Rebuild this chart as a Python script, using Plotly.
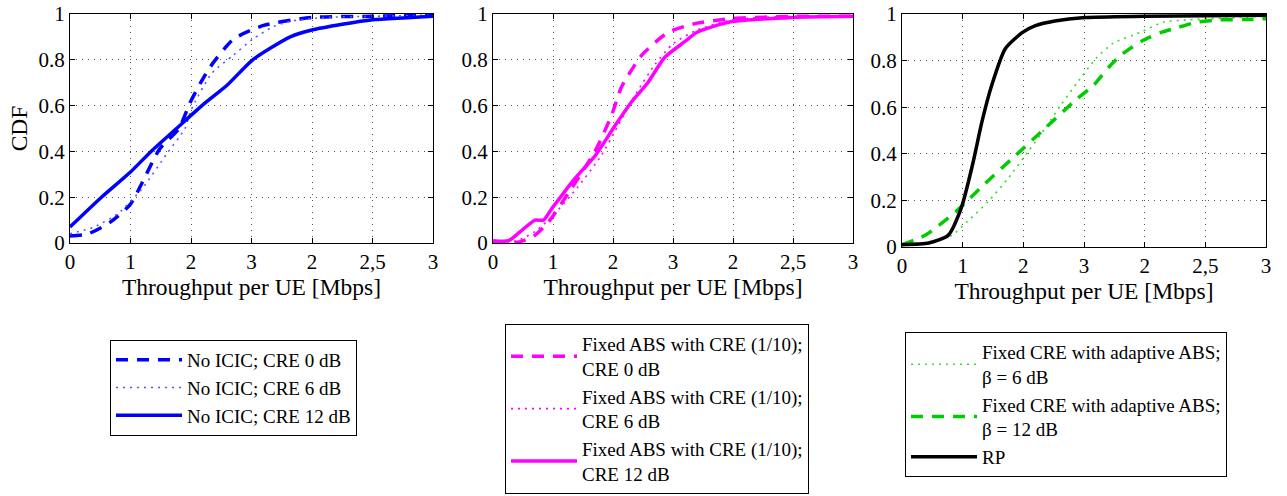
import plotly.graph_objects as go

# ---------------- data ----------------
tick_vals = [0, 0.5, 1, 1.5, 2, 2.5, 3]
tick_text = ["0", "1", "2", "3", "2", "2,5", "3"]
y_tick_vals = [0, 0.2, 0.4, 0.6, 0.8, 1]
y_tick_text = ["0", "0.2", "0.4", "0.6", "0.8", "1"]

# Panel 1: No ICIC
p1_cre0_x = [0, 0.15, 0.33, 0.5, 0.74, 0.9, 0.99, 1.08, 1.16, 1.35, 1.6, 2.0, 2.5, 3]
p1_cre0_y = [0.03, 0.04, 0.09, 0.17, 0.41, 0.50, 0.61, 0.70, 0.77, 0.89, 0.95, 0.985, 0.99, 0.995]
p1_cre6_x = [0, 0.2, 0.4, 0.6, 0.8, 0.95, 1.0, 1.17, 1.35, 1.51, 1.68, 1.84, 2.1, 2.5, 3]
p1_cre6_y = [0.04, 0.07, 0.13, 0.24, 0.39, 0.5, 0.58, 0.74, 0.82, 0.89, 0.945, 0.97, 0.985, 0.99, 0.995]
p1_cre12_x = [0, 0.26, 0.5, 0.67, 0.88, 1.09, 1.3, 1.51, 1.82, 2.0, 2.25, 2.5, 2.75, 3.0]
p1_cre12_y = [0.07, 0.2, 0.31, 0.4, 0.5, 0.6, 0.69, 0.8, 0.9, 0.93, 0.955, 0.975, 0.983, 0.99]

# Panel 2: Fixed ABS with CRE (1/10)
p2_cre0_x = [0, 0.22, 0.34, 0.46, 0.63, 0.85, 0.99, 1.07, 1.24, 1.46, 1.7, 2.0, 2.5, 3]
p2_cre0_y = [0.0, 0.005, 0.03, 0.09, 0.22, 0.40, 0.56, 0.68, 0.82, 0.92, 0.96, 0.98, 0.99, 0.99]
p2_cre6_x = [0, 0.2, 0.35, 0.5, 0.7, 0.9, 1.05, 1.2, 1.35, 1.5, 1.7, 2.0, 2.5, 3]
p2_cre6_y = [0.0, 0.01, 0.05, 0.12, 0.24, 0.38, 0.52, 0.66, 0.78, 0.87, 0.93, 0.975, 0.99, 0.99]
p2_cre12_x = [0, 0.13, 0.25, 0.35, 0.42, 0.49, 0.68, 0.85, 1.02, 1.16, 1.29, 1.43, 1.6, 1.7, 1.98, 2.5, 3]
p2_cre12_y = [0.01, 0.01, 0.06, 0.10, 0.10, 0.15, 0.28, 0.38, 0.515, 0.62, 0.70, 0.81, 0.88, 0.92, 0.966, 0.985, 0.99]

# Panel 3: Fixed CRE with adaptive ABS, and RP
p3_b6_x = [0, 0.22, 0.41, 0.54, 0.71, 0.875, 1.04, 1.18, 1.31, 1.45, 1.6, 1.74, 1.96, 2.15, 2.37, 2.55, 3]
p3_b6_y = [0.01, 0.02, 0.05, 0.11, 0.195, 0.295, 0.41, 0.51, 0.61, 0.71, 0.81, 0.875, 0.92, 0.965, 0.975, 0.98, 0.99]
p3_b12_x = [0, 0.19, 0.44, 0.68, 0.93, 1.18, 1.43, 1.58, 1.71, 1.82, 1.98, 2.13, 2.26, 2.43, 2.62, 2.81, 3.0]
p3_b12_y = [0.01, 0.05, 0.15, 0.27, 0.39, 0.51, 0.63, 0.695, 0.775, 0.83, 0.885, 0.92, 0.94, 0.965, 0.975, 0.976, 0.98]
p3_rp_x = [0, 0.22, 0.38, 0.49, 0.58, 0.66, 0.74, 0.85, 0.99, 1.1, 1.26, 1.51, 2, 3]
p3_rp_y = [0.01, 0.017, 0.05, 0.17, 0.35, 0.54, 0.695, 0.85, 0.92, 0.95, 0.97, 0.985, 0.99, 0.995]

# ---------------- figure ----------------
FONT = "Liberation Serif"
W, H = 1287, 496

BLUE = "#0000FF"
MAG = "#FF00FF"
GREEN = "#00CC00"
DASH = "12px,9px"
DOT = "2px,5px"

fig = go.Figure()

def add(x, y, name, color, width, dash, xa, ya, legend):
    fig.add_trace(go.Scatter(
        x=x, y=y, mode="lines", name=name,
        line=dict(color=color, width=width, dash=dash, shape="spline", smoothing=0.6),
        xaxis=xa, yaxis=ya, legend=legend))

add(p1_cre0_x, p1_cre0_y, "No ICIC; CRE 0 dB", BLUE, 3.5, DASH, "x", "y", "legend")
add(p1_cre6_x, p1_cre6_y, "No ICIC; CRE 6 dB", "#5555FF", 1.6, DOT, "x", "y", "legend")
add(p1_cre12_x, p1_cre12_y, "No ICIC; CRE 12 dB", BLUE, 3.5, "solid", "x", "y", "legend")

add(p2_cre0_x, p2_cre0_y, "Fixed ABS with CRE (1/10);<br>CRE 0 dB", MAG, 3.5, DASH, "x2", "y2", "legend2")
add(p2_cre6_x, p2_cre6_y, "Fixed ABS with CRE (1/10);<br>CRE 6 dB", MAG, 1.6, DOT, "x2", "y2", "legend2")
add(p2_cre12_x, p2_cre12_y, "Fixed ABS with CRE (1/10);<br>CRE 12 dB", MAG, 3.5, "solid", "x2", "y2", "legend2")

add(p3_b6_x, p3_b6_y, "Fixed CRE with adaptive ABS;<br>β = 6 dB", "#33DD33", 1.6, DOT, "x3", "y3", "legend3")
add(p3_b12_x, p3_b12_y, "Fixed CRE with adaptive ABS;<br>β = 12 dB", GREEN, 3.5, DASH, "x3", "y3", "legend3")
add(p3_rp_x, p3_rp_y, "RP", "black", 3.5, "solid", "x3", "y3", "legend3")

x_domains = [[70 / W, 433 / W], [493 / W, 853 / W], [902 / W, 1266 / W]]
y_domains = [[1 - 243 / H, 1 - 14 / H], [1 - 243 / H, 1 - 14 / H], [1 - 247 / H, 1 - 14 / H]]

axis_common = dict(
    showline=True, linecolor="black", linewidth=1, mirror="ticks",
    ticks="inside", ticklen=5, tickcolor="black", automargin=False,
    showgrid=True, gridcolor="#555555", griddash="1px,5px", gridwidth=1,
    zeroline=False, tickfont=dict(family=FONT, size=21, color="black"),
)

layout = dict(
    width=W, height=H,
    margin=dict(l=0, r=0, t=0, b=0, autoexpand=False),
    paper_bgcolor="white", plot_bgcolor="white",
    font=dict(family=FONT, color="black"),
)
for i in range(3):
    sx = "" if i == 0 else str(i + 1)
    layout["xaxis" + sx] = dict(
        axis_common, domain=x_domains[i], range=[0, 3],
        tickvals=tick_vals, ticktext=tick_text,
        anchor="y" + sx,
        title=dict(text="Throughput per UE [Mbps]", font=dict(family=FONT, size=23.5), standoff=0),
    )
    ya = dict(
        axis_common, domain=y_domains[i], range=[0, 1],
        tickvals=y_tick_vals, ticktext=y_tick_text,
        anchor="x" + sx,
    )
    if i == 0:
        ya["title"] = dict(text="CDF", font=dict(family=FONT, size=23.5), standoff=4)
    layout["yaxis" + sx] = ya

leg_common = dict(
    bgcolor="white", bordercolor="black", borderwidth=1,
    font=dict(family=FONT, size=19, color="black"),
    xanchor="left", itemwidth=66, tracegroupgap=0,
)
layout["legend"] = dict(leg_common, x=110 / W, y=1 - 340 / H, yanchor="top")
layout["legend2"] = dict(leg_common, x=505 / W, y=1 - 494 / H, yanchor="bottom")
layout["legend3"] = dict(leg_common, x=905 / W, y=1 - 332 / H, yanchor="top")

fig.update_layout(**layout)
fig.write_html("out.html")
